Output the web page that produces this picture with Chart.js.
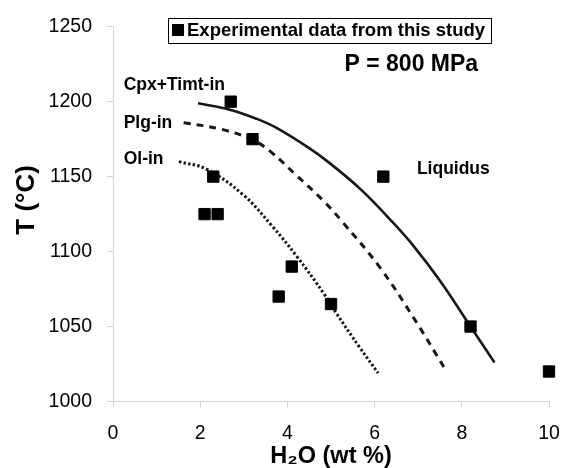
<!DOCTYPE html>
<html><head><meta charset="utf-8">
<script src="https://cdn.jsdelivr.net/npm/chart.js@4/dist/chart.umd.min.js"></script>
<style>html,body{margin:0;padding:0;background:#fff}</style>
</head><body>
<canvas id="c" width="562" height="468"></canvas>
<script>
// ---- data ----
const legendLabel = 'Experimental data from this study';
const expH2O = [2.7, 3.2, 2.3, 2.1, 2.4, 6.2, 4.1, 3.8, 5.0, 8.2, 10.0];
const expT   = [1200, 1175, 1150, 1125, 1125, 1150, 1090, 1070, 1065, 1050, 1020];

const liqH2O = [1.95, 2.7, 3.3, 3.75, 4.5, 4.97, 5.7, 6.4, 6.9, 7.5, 8.2, 8.75];
const liqT   = [1199, 1194.5, 1188.5, 1182.5, 1169, 1159, 1141, 1120, 1103.5, 1080.5, 1050, 1026];

const plgH2O = [1.62, 2.5, 3.2, 3.6, 4.2, 4.82, 5.27, 6.12, 6.88, 7.61];
const plgT   = [1186, 1181.5, 1174.5, 1167, 1151, 1134, 1119.5, 1089.5, 1056.5, 1022];

const olH2O = [1.51, 2.14, 2.98, 3.65, 4.21, 4.86, 5.12, 5.66, 6.08];
const olT   = [1160, 1155, 1138, 1117, 1097, 1071, 1059, 1036, 1019];

const xTicks = [0, 2, 4, 6, 8, 10];
const yTicks = [1000, 1050, 1100, 1150, 1200, 1250];

const xTitle = 'H\u2082O (wt %)';
const yTitle = 'T (°C)';

const labelTexts = ['Cpx+Timt-in', 'Plg-in', 'Ol-in', 'Liquidus', 'P = 800 MPa'];
const labelX     = [0.245, 0.245, 0.245, 6.97, 5.31];
const labelY     = [1210.8, 1185.8, 1161.7, 1155, 1224.8];
const labelSize  = [17.5, 17.5, 17.5, 17.5, 23];

const FONT = '"Liberation Sans", Arial, Helvetica, sans-serif';
const pts = (xs, ys) => xs.map((x, i) => ({x: x, y: ys[i]}));

const labelPlugin = {
  id: 'labels',
  afterDatasetsDraw(chart) {
    const ctx = chart.ctx, xs = chart.scales.x, ys = chart.scales.y;
    ctx.save();
    ctx.fillStyle = '#000';
    ctx.textBaseline = 'middle';
    ctx.textAlign = 'left';
    labelTexts.forEach((t, i) => {
      ctx.font = 'bold ' + labelSize[i] + 'px ' + FONT;
      ctx.fillText(t, xs.getPixelForValue(labelX[i]), ys.getPixelForValue(labelY[i]));
    });
    // y axis title (sits a little above the axis centre in the reference)
    ctx.save();
    ctx.translate(27, ys.getPixelForValue(1134.5));
    ctx.rotate(-Math.PI / 2);
    ctx.textAlign = 'center';
    ctx.font = 'bold 26px ' + FONT;
    ctx.fillText(yTitle, 0, 0);
    ctx.restore();
    // legend box
    ctx.fillStyle = '#fff';
    ctx.fillRect(168, 18, 324, 25);
    ctx.strokeStyle = '#000';
    ctx.lineWidth = 1;
    ctx.strokeRect(168.5, 18.5, 323, 25);
    ctx.fillStyle = '#000';
    ctx.fillRect(172, 24, 12, 12);
    ctx.font = 'bold 18.5px ' + FONT;
    ctx.fillText(legendLabel, 187, 31);
    ctx.restore();
  }
};

const axisColor = '#d4d4d4';
new Chart(document.getElementById('c'), {
  type: 'scatter',
  data: {
    datasets: [
      { label: legendLabel, data: pts(expH2O, expT), pointStyle: 'rect', pointRadius: 8, pointHoverRadius: 8,
        backgroundColor: '#000', borderColor: '#000', borderWidth: 1, showLine: false, clip: false },
      { label: 'Liquidus', data: pts(liqH2O, liqT), showLine: true, pointRadius: 0, borderColor: '#1c1616',
        borderWidth: 2.6, tension: 0.4, fill: false },
      { label: 'Plg-in', data: pts(plgH2O, plgT), showLine: true, pointRadius: 0, borderColor: '#1c1616',
        borderWidth: 3, borderDash: [7, 6], tension: 0.4, fill: false },
      { label: 'Ol-in', data: pts(olH2O, olT), showLine: true, pointRadius: 0, borderColor: '#1c1616',
        borderWidth: 3, borderDash: [2.5, 2.2], tension: 0.4, fill: false }
    ]
  },
  options: {
    responsive: false,
    animation: false,
    events: [],
    layout: { padding: { top: 25, right: 0, left: 0, bottom: 0 } },
    plugins: { legend: { display: false }, tooltip: { enabled: false } },
    scales: {
      x: {
        type: 'linear', min: 0, max: 10,
        afterBuildTicks: s => { s.ticks = xTicks.map(v => ({value: v})); },
        afterFit: s => { s.height = 66.5; s.paddingRight = 13; },
        ticks: { color: '#000', font: { family: FONT, size: 19.5 }, padding: 14, callback: v => String(v) },
        grid: { drawOnChartArea: false, drawTicks: true, tickLength: 6, color: axisColor },
        border: { color: axisColor, width: 1 },
        title: { display: true, text: xTitle, color: '#000',
                 font: { family: FONT, size: 23.5, weight: 'bold', lineHeight: 1 }, padding: { top: 0, bottom: 0 } }
      },
      y: {
        type: 'linear', min: 1000, max: 1250,
        afterBuildTicks: s => { s.ticks = yTicks.map(v => ({value: v})); },
        afterFit: s => { s.width = 113; },
        ticks: { color: '#000', font: { family: FONT, size: 19.5 }, padding: 15, callback: v => String(v) },
        grid: { drawOnChartArea: false, drawTicks: true, tickLength: 6, color: axisColor },
        border: { color: axisColor, width: 1 },
        title: { display: false }
      }
    }
  },
  plugins: [labelPlugin]
});
</script>
</body></html>
